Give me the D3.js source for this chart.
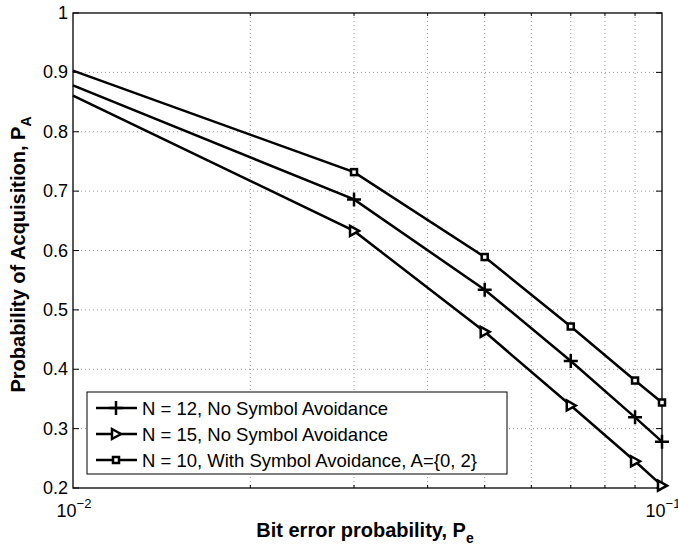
<!DOCTYPE html>
<head>
  <meta charset="utf-8">
  <script src="https://d3js.org/d3.v7.min.js"></script>
  <style>
    body { margin: 0; background: #fff; }
    text { font-family: "Liberation Sans", Arial, Helvetica, sans-serif; fill: #000; }
    .grid line { stroke: #999; stroke-width: 1px; stroke-dasharray: 1,3; }
    .series path { fill: none; stroke: #000; stroke-width: 2.5px; }
  </style>
</head>
<body>
<svg id="chart"></svg>
<script>

var pe = [0.01, 0.03, 0.05, 0.07, 0.09, 0.1];
var paN12 = [0.878, 0.686, 0.534, 0.414, 0.319, 0.278];
var paN15 = [0.861, 0.633, 0.463, 0.339, 0.245, 0.204];
var paN10 = [0.903, 0.732, 0.589, 0.472, 0.381, 0.344];
var seriesNames = ["N = 12, No Symbol Avoidance",
                   "N = 15, No Symbol Avoidance",
                   "N = 10, With Symbol Avoidance, A={0, 2}"];
var yTicks = [0.2, 0.3, 0.4, 0.5, 0.6, 0.7, 0.8, 0.9, 1];
var yTickLabels = ["0.2", "0.3", "0.4", "0.5", "0.6", "0.7", "0.8", "0.9", "1"];
var xMajor = [0.01, 0.1];
var xExp = ["\u22122", "\u22121"];
var xMinor = [0.02, 0.03, 0.04, 0.05, 0.06, 0.07, 0.08, 0.09];

var width = 678, height = 550;
var pLeft = 73, pRight = 662, pTop = 13, pBottom = 488;

var svg = d3.select("#chart").attr("width", width).attr("height", height);

var x = d3.scaleLog().domain([0.01, 0.1]).range([pLeft, pRight]);
var y = d3.scaleLinear().domain([0.2, 1]).range([pBottom, pTop]);

// grid
var grid = svg.append("g").attr("class", "grid");
grid.selectAll("line.gx")
    .data(xMinor)
  .enter().append("line")
    .attr("x1", function(d) { return x(d); })
    .attr("x2", function(d) { return x(d); })
    .attr("y1", pTop).attr("y2", pBottom);
grid.selectAll("line.gy")
    .data(yTicks.slice(1, -1))
  .enter().append("line")
    .attr("x1", pLeft).attr("x2", pRight)
    .attr("y1", function(d) { return y(d); })
    .attr("y2", function(d) { return y(d); });

// ticks inward on all four sides
var ticks = svg.append("g").attr("stroke", "#000").attr("stroke-width", 1);
yTicks.forEach(function(d) {
  ticks.append("line").attr("x1", pLeft).attr("x2", pLeft + 6).attr("y1", y(d)).attr("y2", y(d));
  ticks.append("line").attr("x1", pRight).attr("x2", pRight - 6).attr("y1", y(d)).attr("y2", y(d));
});
xMinor.forEach(function(d) {
  ticks.append("line").attr("x1", x(d)).attr("x2", x(d)).attr("y1", pBottom).attr("y2", pBottom - 3);
  ticks.append("line").attr("x1", x(d)).attr("x2", x(d)).attr("y1", pTop).attr("y2", pTop + 3);
});

// frame
svg.append("rect")
    .attr("x", pLeft).attr("y", pTop)
    .attr("width", pRight - pLeft).attr("height", pBottom - pTop)
    .attr("fill", "none").attr("stroke", "#000").attr("stroke-width", 1.3);

// y tick labels
svg.append("g").selectAll("text")
    .data(yTicks)
  .enter().append("text")
    .attr("x", pLeft - 5)
    .attr("y", function(d) { return y(d) + 6; })
    .attr("text-anchor", "end")
    .attr("font-size", 18)
    .text(function(d, i) { return yTickLabels[i]; });

// x tick labels
xMajor.forEach(function(d, i) {
  var t = svg.append("text")
      .attr("x", x(d) + 1)
      .attr("y", pBottom + 29)
      .attr("text-anchor", "middle")
      .attr("font-size", 18);
  t.append("tspan").text("10");
  t.append("tspan").attr("dy", -9).attr("font-size", 13).text(xExp[i]);
});

// axis labels
var xl = svg.append("text")
    .attr("x", 365)
    .attr("y", 537)
    .attr("text-anchor", "middle")
    .attr("font-size", 20)
    .attr("font-weight", "bold");
xl.append("tspan").text("Bit error probability, P");
xl.append("tspan").attr("dy", 6).attr("font-size", 14).text("e");

var yl = svg.append("text")
    .attr("transform", "translate(25," + ((pTop + pBottom) / 2 + 4) + ") rotate(-90)")
    .attr("text-anchor", "middle")
    .attr("font-size", 20)
    .attr("font-weight", "bold");
yl.append("tspan").text("Probability of Acquisition, P");
yl.append("tspan").attr("dy", 6).attr("font-size", 14).text("A");

// markers
function drawMarker(g, kind, cx, cy) {
  if (kind === "plus") {
    g.append("path")
        .attr("d", "M" + (cx - 7) + "," + cy + "H" + (cx + 7) + "M" + cx + "," + (cy - 7) + "V" + (cy + 7))
        .attr("stroke", "#000").attr("stroke-width", 2.5).attr("fill", "none");
  } else if (kind === "tri") {
    g.append("path")
        .attr("d", "M" + (cx + 5) + "," + cy + "L" + (cx - 4) + "," + (cy - 5) + "L" + (cx - 4) + "," + (cy + 5) + "Z")
        .attr("stroke", "#000").attr("stroke-width", 2.5).attr("stroke-linejoin", "miter").attr("fill", "#fff");
  } else {
    g.append("rect")
        .attr("x", cx - 3).attr("y", cy - 3).attr("width", 6).attr("height", 6)
        .attr("stroke", "#000").attr("stroke-width", 2.5).attr("fill", "#fff");
  }
}

var allSeries = [
  { values: paN12, marker: "plus" },
  { values: paN15, marker: "tri" },
  { values: paN10, marker: "square" }
];

var line = d3.line()
    .x(function(d) { return x(d[0]); })
    .y(function(d) { return y(d[1]); });

var series = svg.append("g").attr("class", "series");
allSeries.forEach(function(s) {
  var pts = pe.map(function(p, i) { return [p, s.values[i]]; });
  series.append("path").attr("d", line(pts));
  var mg = svg.append("g");
  pts.slice(1).forEach(function(p) {
    drawMarker(mg, s.marker, x(p[0]), y(p[1]));
  });
});

// legend
var lg = svg.append("g");
lg.append("rect")
    .attr("x", 87).attr("y", 392).attr("width", 420).attr("height", 82)
    .attr("fill", "#fff").attr("stroke", "#000").attr("stroke-width", 1);
allSeries.forEach(function(s, i) {
  var ly = 408 + i * 26;
  lg.append("line")
      .attr("x1", 96).attr("x2", 137).attr("y1", ly).attr("y2", ly)
      .attr("stroke", "#000").attr("stroke-width", 2.5);
  drawMarker(lg, s.marker, 116, ly);
  lg.append("text")
      .attr("x", 142).attr("y", ly + 6.5)
      .attr("font-size", 18.5)
      .text(seriesNames[i]);
});

</script>
</body>
</html>
